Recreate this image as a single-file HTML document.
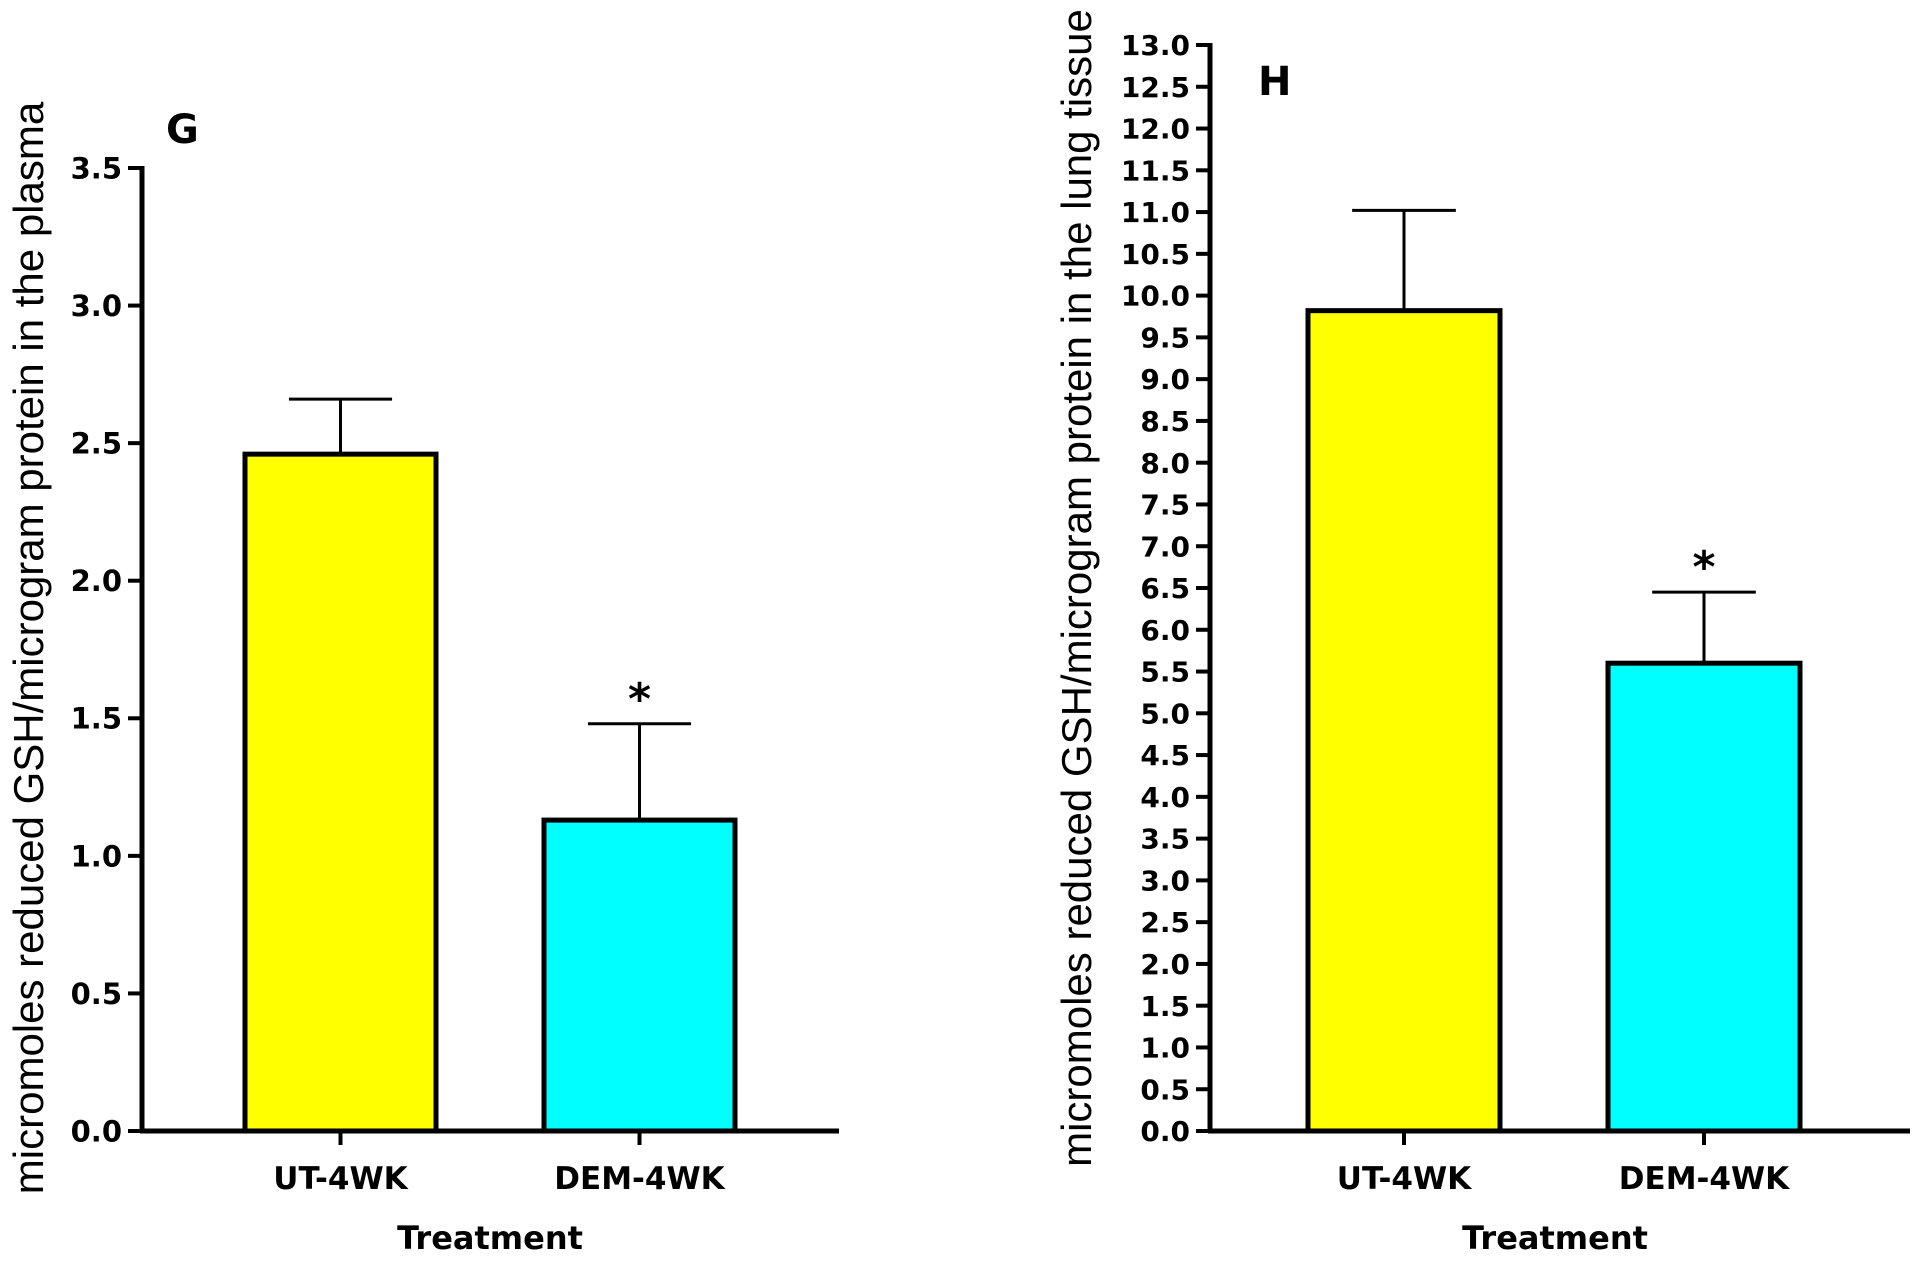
<!DOCTYPE html>
<html><head><meta charset="utf-8"><style>
html,body{margin:0;padding:0;background:#fff;}
svg{display:block;font-family:"Liberation Sans",sans-serif;}
.dv{font-family:"DejaVu Sans","Liberation Sans",sans-serif;}
</style></head><body>
<svg id="c" width="1920" height="1263" viewBox="0 0 1920 1263"></svg>
<script>
const categories = ["UT-4WK", "DEM-4WK"];
const plasmaValues = [2.46, 1.13];
const plasmaErrors = [0.20, 0.35];
const lungValues = [9.82, 5.60];
const lungErrors = [1.20, 0.85];
const plasmaTicks = ["0.0","0.5","1.0","1.5","2.0","2.5","3.0","3.5"];
const lungTicks = ["0.0","0.5","1.0","1.5","2.0","2.5","3.0","3.5","4.0","4.5","5.0","5.5","6.0","6.5","7.0","7.5","8.0","8.5","9.0","9.5","10.0","10.5","11.0","11.5","12.0","12.5","13.0"];
const colors = ["#ffff00", "#00ffff"];
const NS = "http://www.w3.org/2000/svg";
const svg = document.getElementById('c');
function mk(tag, attrs, parent, text){
  const e = document.createElementNS(NS, tag);
  for (const k in attrs) e.setAttribute(k, attrs[k]);
  if (text !== undefined) e.textContent = text;
  (parent || svg).appendChild(e);
  return e;
}
function panel(cfg, values, errors, ticks, letter, ytitle, id){
  const g = mk('g', {});
  
  
  const yMax = parseFloat(ticks[ticks.length-1]);
  const y = v => cfg.y0 - v / yMax * (cfg.y0 - cfg.yTop);
  const bx = i => cfg.barX[i];
  ticks.forEach(t => {
    const v = parseFloat(t), yy = y(v);
    const l = mk('line', {x1: cfg.ax - 14, x2: cfg.ax, y1: yy, y2: yy, stroke: '#000', 'stroke-width': 4}, g);
    
    
    const tx = mk('text', {x: cfg.ax - 20, y: yy + cfg.fs*0.36, 'text-anchor': 'end', 'font-size': cfg.fs, 'font-weight': 'bold', class: 'dv'}, g, t);
    
    
  });
  values.forEach((v, i) => {
    const x0 = bx(i), w = cfg.barW, cx = x0 + w/2;
    const top = y(v), etop = y(v + errors[i]);
    const el = mk('line', {x1: cx, x2: cx, y1: top, y2: etop, stroke: '#000', 'stroke-width': 3}, g);
    
    
    const cap = mk('line', {x1: cx - w*0.27, x2: cx + w*0.27, y1: etop, y2: etop, stroke: '#000', 'stroke-width': 3}, g);
    
    
    const r = mk('rect', {x: x0, y: top, width: w, height: cfg.y0 - top, fill: colors[i], stroke: '#000', 'stroke-width': 5}, g);
    
    
    const xt = mk('line', {x1: cx, x2: cx, y1: cfg.y0, y2: cfg.y0 + 14, stroke: '#000', 'stroke-width': 4}, g);
    
    
    const lab = mk('text', {x: cx, y: cfg.y0 + 58, 'text-anchor': 'middle', 'font-size': 31, 'font-weight': 'bold', class: 'dv'}, g, categories[i]);
    
    
    if (i === 1) {
      const s = mk('text', {x: cx, y: etop - 10, 'text-anchor': 'middle', 'font-size': 44, 'font-weight': 'bold', class: 'dv'}, g, '*');
      
      
    }
  });
  const yax = mk('line', {x1: cfg.ax, x2: cfg.ax, y1: cfg.yTop - 2, y2: cfg.y0 + 2, stroke: '#000', 'stroke-width': 5}, g);
  
  
  const xax = mk('line', {x1: cfg.ax - 2, x2: cfg.xEnd, y1: cfg.y0, y2: cfg.y0, stroke: '#000', 'stroke-width': 5}, g);
  
  
  const lt = mk('text', {x: cfg.letter[0], y: cfg.letter[1], 'font-size': 40, 'font-weight': 'bold', class: 'dv'}, g, letter);
  
  
  const xt = mk('text', {x: cfg.xTitleX, y: cfg.y0 + 118, 'text-anchor': 'middle', 'font-size': 32, 'font-weight': 'bold', class: 'dv'}, g, 'Treatment');
  
  
  const yt = mk('text', {x: 0, y: 0, 'text-anchor': 'middle', 'font-size': 42, transform: `translate(${cfg.titleX},${cfg.titleY}) rotate(-90)`}, g, ytitle);
  
  
}
panel({ax:142, yTop:168, y0:1131, xEnd:839, barX:[245,544], barW:191, fs:29, letter:[166,143], xTitleX:490, titleX:43, titleY:648},
  plasmaValues, plasmaErrors, plasmaTicks, 'G', 'micromoles reduced GSH/microgram protein in the plasma', 'plasma');
panel({ax:1210, yTop:45, y0:1131, xEnd:1910, barX:[1308,1608], barW:192, fs:28, letter:[1258,95], xTitleX:1555, titleX:1091, titleY:588},
  lungValues, lungErrors, lungTicks, 'H', 'micromoles reduced GSH/microgram protein in the lung tissue', 'lung');
</script>
</body></html>
